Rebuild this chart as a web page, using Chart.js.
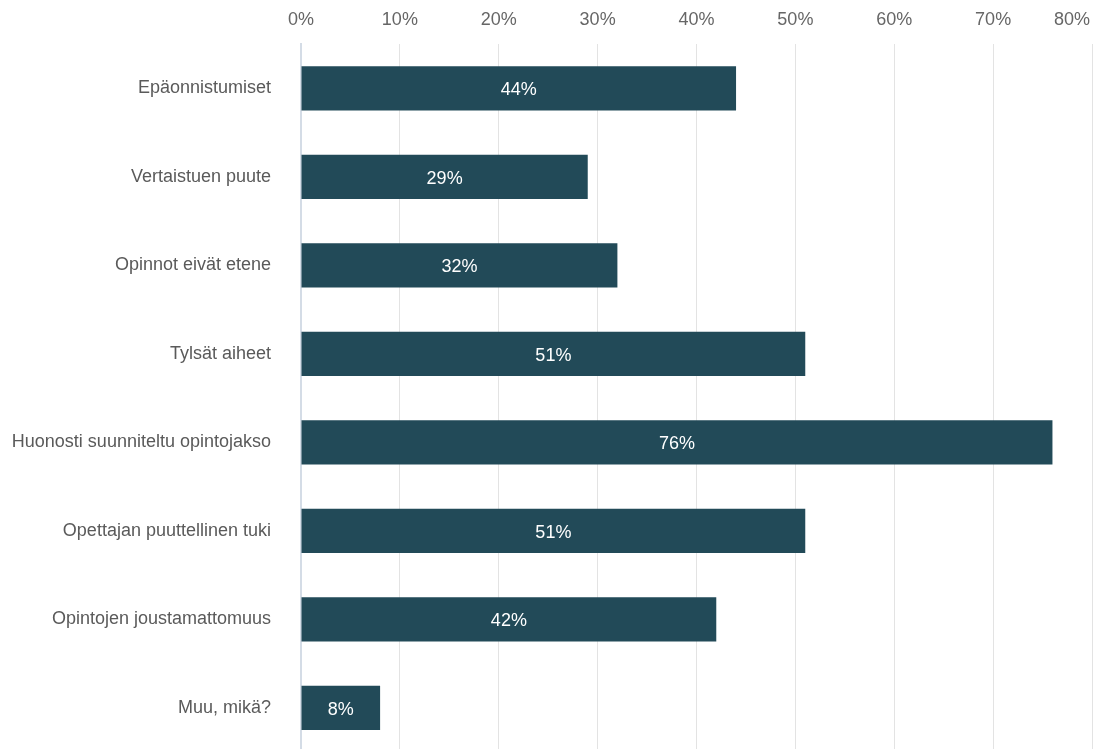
<!DOCTYPE html>
<html lang="fi">
<head>
    <meta charset="UTF-8">
    <title>Syyt opintojen keskeyttämiseen</title>
    <script src="https://cdn.jsdelivr.net/npm/chart.js"></script>
    <style>
        html, body {
            margin: 0;
            padding: 0;
            background: #fff;
            overflow: hidden;
        }
        .chart-wrap {
            width: 1100px;
            height: 749px;
            overflow: hidden;
        }
    </style>
</head>
<body>
<div class="chart-wrap">
    <canvas id="chart" width="1100" height="752"></canvas>
</div>

<script>
    // Vastausvaihtoehdot ja osuudet (%)
    const categories = [
        'Epäonnistumiset',
        'Vertaistuen puute',
        'Opinnot eivät etene',
        'Tylsät aiheet',
        'Huonosti suunniteltu opintojakso',
        'Opettajan puuttellinen tuki',
        'Opintojen joustamattomuus',
        'Muu, mikä?'
    ];
    const shares = [44, 29, 32, 51, 76, 51, 42, 8];

    // Asteikko
    const axisMin = 0;
    const axisMax = 80;
    const axisStep = 10;

    const FONT = 'Arial, "Liberation Sans", sans-serif';

    // Prosenttiluvut palkkien keskelle
    const barLabels = {
        id: 'barLabels',
        afterDatasetsDraw(chart) {
            const ctx = chart.ctx;
            const meta = chart.getDatasetMeta(0);
            ctx.save();
            ctx.font = '18px ' + FONT;
            ctx.fillStyle = '#ffffff';
            ctx.textAlign = 'center';
            ctx.textBaseline = 'middle';
            meta.data.forEach((bar, i) => {
                const v = chart.data.datasets[0].data[i];
                ctx.fillText(v + '%', (bar.x + bar.base) / 2, bar.y + 2);
            });
            ctx.restore();
        }
    };

    // X-akselin otsikot ylös; viimeinen pidetään kuvan sisällä
    const topTicks = {
        id: 'topTicks',
        afterDraw(chart) {
            const ctx = chart.ctx;
            const scale = chart.scales.x;
            ctx.save();
            ctx.font = '18px ' + FONT;
            ctx.fillStyle = '#666666';
            ctx.textAlign = 'center';
            ctx.textBaseline = 'middle';
            scale.ticks.forEach(t => {
                const text = t.value + '%';
                const w = ctx.measureText(text).width;
                const px = scale.getPixelForValue(t.value);
                const x = Math.min(px, chart.width - 10 - w / 2);
                ctx.fillText(text, x, 20);
            });
            ctx.restore();
        }
    };

    const chart = new Chart(document.getElementById('chart').getContext('2d'), {
        type: 'bar',
        data: {
            labels: categories,
            datasets: [{
                data: shares,
                backgroundColor: '#224a58',
                borderWidth: 0,
                barPercentage: 0.5,
                categoryPercentage: 1
            }]
        },
        options: {
            indexAxis: 'y',
            responsive: false,
            animation: false,
            layout: {
                padding: {top: 44, right: 8, bottom: 0, left: 0}
            },
            plugins: {
                legend: {display: false},
                tooltip: {enabled: false}
            },
            scales: {
                x: {
                    position: 'top',
                    min: axisMin,
                    max: axisMax,
                    ticks: {display: false, stepSize: axisStep},
                    grid: {color: '#e3e3e3', lineWidth: 1, drawTicks: false},
                    border: {display: false}
                },
                y: {
                    afterFit(scale) {
                        // kiinteä leveys, eikä ylimääräistä tilaa ylä- ja alareunaan
                        scale.width = 301;
                        scale.paddingTop = 0;
                        scale.paddingBottom = 0;
                    },
                    ticks: {
                        color: '#5a5a5a',
                        padding: 22,
                        font: {family: FONT, size: 18}
                    },
                    grid: {display: false},
                    border: {display: true, color: '#d4dce6', width: 2}
                }
            }
        },
        plugins: [barLabels, topTicks]
    });
</script>
</body>
</html>
